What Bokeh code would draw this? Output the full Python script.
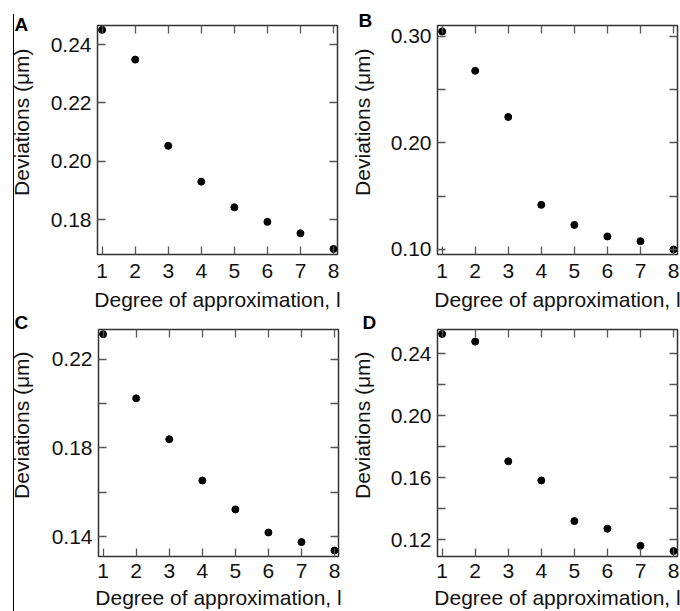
from bokeh.plotting import figure
from bokeh.models import Range1d, FixedTicker, LinearAxis, NumeralTickFormatter, CustomJSTickFormatter
from bokeh.layouts import row, column
from bokeh.embed import file_html
from bokeh.resources import INLINE

# ---- data ----
degrees = [1, 2, 3, 4, 5, 6, 7, 8]
dev_a = [0.2451, 0.2349, 0.2053, 0.1930, 0.1842, 0.1792, 0.1753, 0.1699]
dev_b = [0.3047, 0.2678, 0.2244, 0.1419, 0.1231, 0.1122, 0.1078, 0.1000]
dev_c = [0.2312, 0.2023, 0.1839, 0.1653, 0.1523, 0.1419, 0.1376, 0.1338]
dev_d = [0.2526, 0.2477, 0.1706, 0.1583, 0.1321, 0.1272, 0.1162, 0.1128]

x_ticks = [1, 2, 3, 4, 5, 6, 7, 8]
yticks_a = [0.18, 0.20, 0.22, 0.24]
yminor_a = []
yticks_b = [0.10, 0.20, 0.30]
yminor_b = [0.15, 0.25]
yticks_c = [0.14, 0.18, 0.22]
yminor_c = [0.16, 0.20]
yticks_d = [0.12, 0.16, 0.20, 0.24]
yminor_d = [0.14, 0.18, 0.22]

panel_letters = ["A", "B", "C", "D"]
y_title = "Deviations (\u03bcm)"
x_title = "Degree of approximation, l"

FONT = "Liberation Sans"
TXT = "#111111"
FRAME = "#333333"
TICK = "#555555"
FS = "21px"
# leading non-collapsing spaces shift the rotated title upward, as in the reference
Y_PAD = "\u2003\u2002\u2009"


def style_axis(ax, ticks, minor, show_labels, fmt=None):
    ax.ticker = FixedTicker(ticks=ticks, minor_ticks=minor)
    ax.axis_line_color = None
    ax.major_tick_in = 8
    ax.major_tick_out = 0
    ax.minor_tick_in = 8
    ax.minor_tick_out = 0
    ax.major_tick_line_color = TICK
    ax.minor_tick_line_color = TICK
    ax.major_tick_line_width = 1.3
    ax.minor_tick_line_width = 1.3
    if show_labels:
        ax.major_label_text_font = FONT
        ax.major_label_text_font_size = FS
        ax.major_label_text_color = TXT
        ax.axis_label_text_font = FONT
        ax.axis_label_text_font_size = FS
        ax.axis_label_text_font_style = "normal"
        ax.axis_label_text_color = TXT
        if fmt is not None:
            ax.formatter = fmt
    else:
        ax.formatter = CustomJSTickFormatter(code="return ''")
        ax.major_label_standoff = 0
        ax.major_label_text_font_size = "1px"


def panel(letter, ys, yr, major, minor, fw, fh, bl, br, bt, bb,
          letter_offset, letter_standoff, ylab_standoff, xs1, xs2, transparent):
    p = figure(width=bl + fw + br, height=bt + fh + bb,
               x_range=Range1d(0.86, 8.12), y_range=Range1d(*yr),
               output_backend="svg", toolbar_location=None,
               min_border_left=bl, min_border_right=br,
               min_border_top=bt, min_border_bottom=bb,
               background_fill_color="white",
               border_fill_color=None if transparent else "white",
               outline_line_color=FRAME, outline_line_width=1.5)
    p.grid.visible = False
    p.scatter(degrees, ys, size=7, color="black")

    xb = p.xaxis[0]
    style_axis(xb, x_ticks, [], True)
    xb.major_label_standoff = xs1
    xb.axis_label = x_title
    xb.axis_label_standoff = xs2

    yl = p.yaxis[0]
    style_axis(yl, major, minor, True, NumeralTickFormatter(format="0.00"))
    yl.major_label_standoff = 6
    yl.axis_label = Y_PAD + y_title
    yl.axis_label_standoff = ylab_standoff

    xt = LinearAxis()
    style_axis(xt, x_ticks, [], False)
    p.add_layout(xt, "above")
    yr_ax = LinearAxis()
    style_axis(yr_ax, major, minor, False)
    p.add_layout(yr_ax, "right")

    p.title.text = letter
    p.title.align = "left"
    p.title.offset = letter_offset
    p.title.standoff = letter_standoff
    p.title.text_font = FONT
    p.title.text_font_style = "bold"
    p.title.text_font_size = "19px"
    p.title.text_color = "black"
    return p


pA = panel(panel_letters[0], dev_a, (0.1680, 0.2466), yticks_a, yminor_a,
           240, 231, 97, 10, 23, 59, -83, -18, 15, 9, 7, True)
pB = panel(panel_letters[1], dev_b, (0.0953, 0.3103), yticks_b, yminor_b,
           240, 229, 90, 3, 25, 59, -79, -11, 14, 9, 7, False)
pC = panel(panel_letters[2], dev_c, (0.1311, 0.2333), yticks_c, yminor_c,
           240, 229, 98, 9, 15, 54, -84, -7, 16, 7, 5, True)
pD = panel(panel_letters[3], dev_d, (0.1093, 0.2555), yticks_d, yminor_d,
           240, 229, 90, 3, 15, 54, -75, -7, 14, 7, 5, False)

# the thin vertical rule at the far left is painted as a CSS background of the layout
layout = column(row(pA, pB), row(pC, pD),
                styles={"background-color": "white",
                        "background-image": "linear-gradient(#000000, #000000)",
                        "background-size": "1px 597px",
                        "background-position": "13px 14px",
                        "background-repeat": "no-repeat"})

with open("out.html", "w") as f:
    f.write(file_html(layout, INLINE))
